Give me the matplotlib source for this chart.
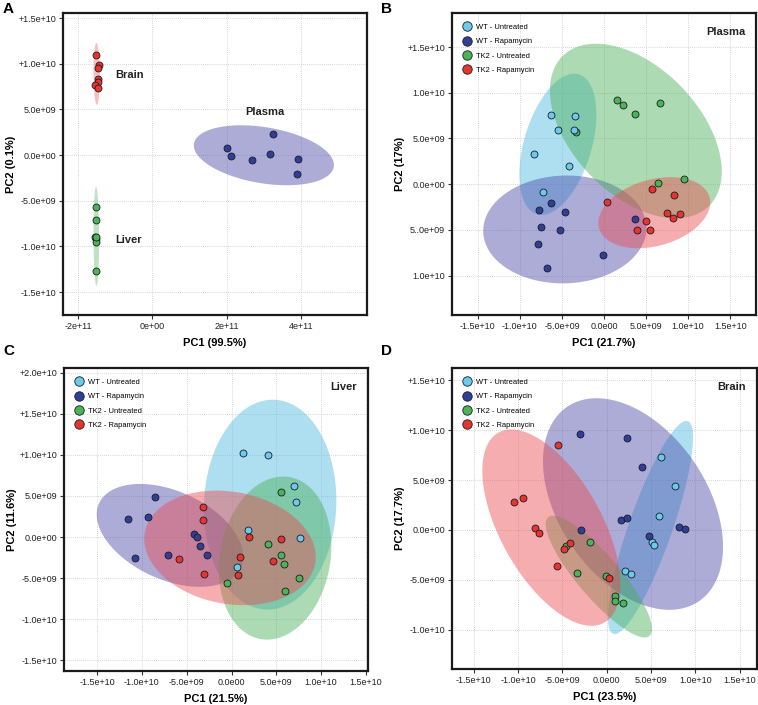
import numpy as np
import matplotlib
matplotlib.use("Agg")
import matplotlib.pyplot as plt
from matplotlib.lines import Line2D

plt.rcParams['font.family'] = ['Liberation Sans', 'DejaVu Sans']

# ---------------- DATA ----------------
groups = ["WT - Untreated", "WT - Rapamycin", "TK2 - Untreated", "TK2 - Rapamycin"]
point_colors = ["#6ccbea", "#2f3f96", "#4cb553", "#e8352b"]
ellipse_colors = ["#4db8de", "#4848a8", "#48ad55", "#ec4a4e"]

# Panel A: tissues
A_tissues = ["Brain", "Liver", "Plasma"]
A_brain_x = [-1.52e11, -1.44e11, -1.46e11, -1.47e11, -1.46e11, -1.53e11, -1.45e11]
A_brain_y = [1.10e10, 0.99e10, 0.95e10, 0.835e10, 0.80e10, 0.765e10, 0.73e10]
A_liver_x = [-1.51e11, -1.51e11, -1.53e11, -1.50e11, -1.50e11, -1.51e11, -1.52e11]
A_liver_y = [-0.564e10, -0.71e10, -0.894e10, -0.923e10, -0.952e10, -1.264e10, -0.90e10]
A_plasma_x = [2.0e11, 2.13e11, 2.69e11, 3.17e11, 3.26e11, 3.92e11, 3.89e11]
A_plasma_y = [0.073e10, -0.011e10, -0.059e10, 0.007e10, 0.227e10, -0.048e10, -0.209e10]
# ellipse bounds (brain, liver, plasma): xmin, xmax, ymin, ymax, x at top
A_ell_xmin = [-1.58e11, -1.58e11, 1.12e11]
A_ell_xmax = [-1.41e11, -1.43e11, 4.89e11]
A_ell_ymin = [0.55e10, -1.43e10, -0.33e10]
A_ell_ymax = [1.227e10, -0.348e10, 0.326e10]
A_ell_xtop = [-1.50e11, -1.51e11, 2.39e11]

# Panel B: Plasma
B_x = [
    [-6.35e9, -3.43e9, -5.41e9, -3.55e9, -8.29e9, -4.18e9, -7.22e9],
    [-6.31e9, -7.70e9, -4.62e9, -7.50e9, -5.25e9, -7.85e9, -0.16e9, -6.75e9, 3.63e9],
    [1.58e9, 2.25e9, 3.63e9, 6.63e9, -3.28e9, 6.43e9, 9.47e9],
    [0.36e9, 5.72e9, 8.29e9, 7.46e9, 8.21e9, 9.08e9, 5.01e9, 3.91e9, 5.41e9],
]
B_y = [
    [7.55e9, 7.48e9, 5.95e9, 5.88e9, 3.25e9, 2.0e9, -0.84e9],
    [-2.08e9, -2.81e9, -3.03e9, -4.64e9, -4.96e9, -6.50e9, -7.77e9, -9.20e9, -3.80e9],
    [9.16e9, 8.65e9, 7.63e9, 8.91e9, 5.73e9, 0.18e9, 0.58e9],
    [-1.93e9, -0.47e9, -1.17e9, -3.18e9, -3.65e9, -3.25e9, -4.05e9, -5.0e9, -5.0e9],
]
B_ell_xmin = [-10.06e9, -14.36e9, -6.43e9, -0.67e9]
B_ell_xmax = [-0.91e9, 5.05e9, 14.0e9, 12.63e9]
B_ell_ymin = [-3.36e9, -10.84e9, -3.72e9, -7.0e9]
B_ell_ymax = [12.08e9, 0.95e9, 15.36e9, 0.77e9]
B_ell_xtop = [-3.55e9, -4.4e9, -0.95e9, 7.9e9]

# Panel C: Liver
C_x = [
    [1.26e9, 4.05e9, 7.02e9, 7.17e9, 1.89e9, 7.65e9, 0.63e9],
    [-8.54e9, -11.59e9, -9.29e9, -4.16e9, -3.86e9, -3.57e9, -2.75e9, -7.13e9, -10.77e9],
    [5.53e9, 4.05e9, 5.53e9, 5.87e9, 7.54e9, 5.98e9, -0.48e9],
    [-3.19e9, -3.23e9, 1.97e9, 5.53e9, 0.93e9, 4.64e9, -5.83e9, -3.12e9, 0.67e9],
]
C_y = [
    [10.20e9, 10.0e9, 6.18e9, 4.23e9, 0.81e9, -0.16e9, -3.66e9],
    [4.88e9, 2.24e9, 2.48e9, 0.33e9, 0.0, -1.10e9, -2.24e9, -2.15e9, -2.60e9],
    [5.45e9, -0.85e9, -2.20e9, -3.29e9, -4.96e9, -6.59e9, -5.65e9],
    [3.70e9, 2.03e9, 0.0, -0.28e9, -2.40e9, -2.93e9, -2.72e9, -4.51e9, -4.67e9],
]
C_ell_xmin = [-3.08e9, -15.04e9, -1.41e9, -9.73e9]
C_ell_xmax = [11.70e9, 1.30e9, 11.14e9, 9.40e9]
C_ell_ymin = [-8.82e9, -6.06e9, -12.48e9, -8.29e9]
C_ell_ymax = [16.71e9, 6.46e9, 7.36e9, 5.65e9]
C_ell_xtop = [4.6e9, -10.2e9, 5.76e9, -1.67e9]

# Panel D: Brain
D_x = [
    [6.09e9, 7.67e9, 5.90e9, 5.11e9, 5.34e9, 2.03e9, 2.71e9],
    [-2.97e9, 2.29e9, 4.02e9, 1.65e9, 2.33e9, -2.89e9, 4.74e9, 8.16e9, 8.87e9],
    [-1.92e9, -4.59e9, -3.38e9, -0.04e9, 0.98e9, 0.98e9, 1.84e9],
    [-5.53e9, -10.41e9, -9.40e9, -8.05e9, -7.67e9, -4.10e9, -4.77e9, -5.56e9, 0.30e9],
]
D_y = [
    [7.27e9, 4.40e9, 1.37e9, -1.23e9, -1.50e9, -4.13e9, -4.43e9],
    [9.60e9, 9.23e9, 6.33e9, 1.0e9, 1.23e9, 0.03e9, -0.6e9, 0.3e9, 0.1e9],
    [-1.2e9, -1.63e9, -4.3e9, -4.57e9, -6.6e9, -7.1e9, -7.27e9],
    [8.53e9, 2.8e9, 3.17e9, 0.17e9, -0.27e9, -1.27e9, -1.93e9, -3.63e9, -4.77e9],
]
D_ell_xmin = [0.15e9, -7.18e9, -6.88e9, -14.02e9]
D_ell_xmax = [9.74e9, 13.12e9, 5.11e9, 1.54e9]
D_ell_ymin = [-10.43e9, -8.0e9, -10.77e9, -9.6e9]
D_ell_ymax = [10.93e9, 13.2e9, 1.43e9, 10.07e9]
D_ell_xtop = [8.98e9, -1.13e9, -6.05e9, -10.75e9]

# tick labels
A_xticks = [-2e11, 0, 2e11, 4e11]
A_xticklabels = ["-2e+11", "0e+00", "2e+11", "4e+11"]
A_yticks = [1.5e10, 1e10, 5e9, 0, -5e9, -1e10, -1.5e10]
A_yticklabels = ["+1.5e+10", "+1.0e+10", "5.0e+09", "0.0e+00", "-5.0e+09", "-1.0e+10", "-1.5e+10"]
BCD_xticks = [-1.5e10, -1e10, -5e9, 0, 5e9, 1e10, 1.5e10]
BCD_xticklabels = ["-1.5e+10", "-1.0e+10", "-5.0e+09", "0.0e00", "5.0e+09", "1.0e+10", "1.5e+10"]
B_yticks = [1.5e10, 1e10, 5e9, 0, -5e9, -1e10]
B_yticklabels = ["+1.5e+10", "1.0e+10", "5.0e+09", "0.0e+00", "5..0e+09", "1.0e+10"]
C_yticks = [2e10, 1.5e10, 1e10, 5e9, 0, -5e9, -1e10, -1.5e10]
C_yticklabels = ["+2.0e+10", "+1.5e+10", "+1.0e+10", "5.0e+09", "0.0e+00", "-5.0e+09", "-1.0e+10", "-1.5e+10"]
D_yticks = [1.5e10, 1e10, 5e9, 0, -5e9, -1e10]
D_yticklabels = ["+1.5e+10", "+1.0e+10", "5.0e+09", "0.0e+00", "-5.0e+09", "-1.0e+10"]

# ---------------- PLOT ----------------
W, H = 758, 705
fig = plt.figure(figsize=(W / 100, H / 100), dpi=100)


def px_axes(l, t, r, b):
    return fig.add_axes([l / W, 1 - b / H, (r - l) / W, (b - t) / H])


def draw_ellipse(ax, xmin, xmax, ymin, ymax, xtop, color, alpha=0.45):
    cx, cy = (xmin + xmax) / 2, (ymin + ymax) / 2
    A, B = (xmax - xmin) / 2, (ymax - ymin) / 2
    c = np.clip((xtop - cx) / A, -0.999, 0.999)
    phi = np.arccos(c)
    t = np.linspace(0, 2 * np.pi, 300)
    ax.fill(cx + A * np.cos(t), cy + B * np.cos(t - phi), color=color,
            alpha=alpha, lw=0, zorder=1)


def style_axes(ax, xlim, ylim, xt, xtl, yt, ytl, xlabel, ylabel):
    ax.set_xlim(*xlim)
    ax.set_ylim(*ylim)
    ax.set_xticks(xt)
    ax.set_xticklabels(xtl)
    ax.set_yticks(yt)
    ax.set_yticklabels(ytl)
    ax.grid(True, ls=(0, (1, 1.5)), color="#c8c8c8", lw=0.6, zorder=0)
    ax.set_axisbelow(True)
    for s in ax.spines.values():
        s.set_linewidth(1.6)
        s.set_color("#1a1a1a")
    ax.tick_params(labelsize=6.5, length=3, width=0.8, pad=2,
                   color="#333333", labelcolor="#222222")
    ax.set_xlabel(xlabel, fontsize=8, fontweight="bold")
    ax.set_ylabel(ylabel, fontsize=8, fontweight="bold")
    ax.xaxis.set_label_coords(0.5, -0.075)
    ax.yaxis.set_label_coords(-0.155, 0.5)


def scatter(ax, x, y, color):
    ax.scatter(x, y, s=25, c=color, edgecolors="#1a1a2a", linewidths=0.6, zorder=3)


def legend(ax):
    handles = [Line2D([], [], ls="", marker="o", markersize=6.8, markerfacecolor=c,
                      markeredgecolor="#1a1a2a", markeredgewidth=0.6) for c in point_colors]
    ax.legend(handles, groups, loc="upper left", frameon=False, fontsize=5.4,
              labelspacing=0.95, handletextpad=0.55, borderaxespad=0,
              bbox_to_anchor=(0.026, 0.975), handlelength=1.2)


# Panel A
axA = px_axes(63, 13, 367, 315)
A_cols = [ellipse_colors[3], ellipse_colors[2], ellipse_colors[1]]
A_pcols = [point_colors[3], point_colors[2], point_colors[1]]
for i in range(3):
    draw_ellipse(axA, A_ell_xmin[i], A_ell_xmax[i], A_ell_ymin[i], A_ell_ymax[i],
                 A_ell_xtop[i], A_cols[i], alpha=0.35 if i < 2 else 0.45)
for (xs, ys), c in zip([(A_brain_x, A_brain_y), (A_liver_x, A_liver_y),
                        (A_plasma_x, A_plasma_y)], A_pcols):
    scatter(axA, xs, ys, c)
style_axes(axA, (-2.4e11, 5.78e11), (-1.75e10, 1.555e10), A_xticks, A_xticklabels,
           A_yticks, A_yticklabels, "PC1 (99.5%)", "PC2 (0.1%)")
axA.text(-0.99e11, 0.88e10, "Brain", fontsize=8, fontweight="bold", va="center", color="#222")
axA.text(2.51e11, 0.47e10, "Plasma", fontsize=8, fontweight="bold", va="center", color="#222")
axA.text(-1.0e11, -0.934e10, "Liver", fontsize=8, fontweight="bold", va="center", color="#222")


def group_panel(ax, xs, ys, exmin, exmax, eymin, eymax, extop, title):
    for i in range(4):
        draw_ellipse(ax, exmin[i], exmax[i], eymin[i], eymax[i], extop[i], ellipse_colors[i])
    for i in [2, 0, 1, 3]:
        scatter(ax, xs[i], ys[i], point_colors[i])
    legend(ax)
    ax.text(0.965, 0.955, title, transform=ax.transAxes, ha="right", va="top",
            fontsize=8, fontweight="bold", color="#222")


axB = px_axes(452, 13, 756, 315)
group_panel(axB, B_x, B_y, B_ell_xmin, B_ell_xmax, B_ell_ymin, B_ell_ymax, B_ell_xtop, "Plasma")
style_axes(axB, (-1.807e10, 1.807e10), (-1.43e10, 1.872e10), BCD_xticks, BCD_xticklabels,
           B_yticks, B_yticklabels, "PC1 (21.7%)", "PC2 (17%)")

axC = px_axes(64, 368, 368, 671)
group_panel(axC, C_x, C_y, C_ell_xmin, C_ell_xmax, C_ell_ymin, C_ell_ymax, C_ell_xtop, "Liver")
style_axes(axC, (-1.869e10, 1.523e10), (-1.63e10, 2.057e10), BCD_xticks, BCD_xticklabels,
           C_yticks, C_yticklabels, "PC1 (21.5%)", "PC2 (11.6%)")

axD = px_axes(452, 368, 757, 669)
group_panel(axD, D_x, D_y, D_ell_xmin, D_ell_xmax, D_ell_ymin, D_ell_ymax, D_ell_xtop, "Brain")
style_axes(axD, (-1.744e10, 1.695e10), (-1.393e10, 1.623e10), BCD_xticks, BCD_xticklabels,
           D_yticks, D_yticklabels, "PC1 (23.5%)", "PC2 (17.7%)")

for letter, (x, y) in zip("ABCD", [(3, 2), (381, 2), (3, 344), (381, 344)]):
    fig.text(x / W, 1 - y / H, letter, fontsize=11, fontweight="bold", ha="left", va="top")

fig.savefig("out.png", dpi=100)
